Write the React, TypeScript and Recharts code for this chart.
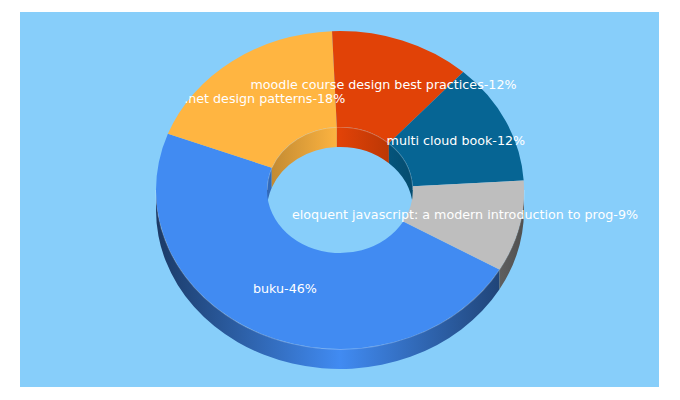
import { PieChart, Pie } from "recharts"

const categories = ["buku", ".net design patterns", "moodle course design best practices", "multi cloud book", "eloquent javascript: a modern introduction to prog"]
const values = [46, 18, 12, 12, 9]
const colors = ["#418bf2", "#ffb541", "#e14207", "#066594", "#bebebe"]

const chartData = categories.map((name, i) => ({ name, value: values[i], fill: colors[i] }))

const WIDTH = 639
const HEIGHT = 375
const CX = 320
const CY = 178
const OUTER = 184
const INNER = 73
const SQUASH = 0.864
const DEPTH = 20
const START = -30

const rad = (a: number) => (a * Math.PI) / 180
const pt = (cx: number, cy: number, r: number, a: number) =>
  `${cx + r * Math.cos(rad(a))} ${cy - r * SQUASH * Math.sin(rad(a))}`

// elliptical arc going clockwise on screen (a1 > a2), or back again
const arc = (cx: number, cy: number, r: number, a1: number, a2: number) => {
  const large = Math.abs(a1 - a2) > 180 ? 1 : 0
  const sweep = a1 > a2 ? 1 : 0
  return `A ${r} ${r * SQUASH} 0 ${large} ${sweep} ${pt(cx, cy, r, a2)}`
}

function TopFace(props: any) {
  const { cx, cy, innerRadius, outerRadius, startAngle, endAngle, fill } = props
  const d = [
    `M ${pt(cx, cy, outerRadius, startAngle)}`,
    arc(cx, cy, outerRadius, startAngle, endAngle),
    `L ${pt(cx, cy, innerRadius, endAngle)}`,
    arc(cx, cy, innerRadius, endAngle, startAngle),
    "Z",
  ].join(" ")
  return <path d={d} fill={fill} />
}

function wallPath(cx: number, cy: number, r: number, a1: number, a2: number) {
  return [
    `M ${pt(cx, cy, r, a1)}`,
    arc(cx, cy, r, a1, a2),
    `L ${pt(cx, cy + DEPTH, r, a2)}`,
    arc(cx, cy + DEPTH, r, a2, a1),
    "Z",
  ].join(" ")
}

// only the front of the outer rim and the back of the hole can be seen
const OUTER_VISIBLE = [[0, -180], [-360, -540]]
const INNER_VISIBLE = [[-180, -360]]

function Walls(props: any) {
  const { cx, cy, innerRadius, outerRadius, startAngle, endAngle, name } = props
  const i = categories.indexOf(name)
  const parts: any[] = []
  const add = (ranges: number[][], r: number, prefix: string) => {
    ranges.forEach(([hi, lo]) => {
      const a1 = Math.min(startAngle, hi)
      const a2 = Math.max(endAngle, lo)
      if (a1 > a2) {
        parts.push(
          <g key={prefix + hi}>
            <path d={wallPath(cx, cy, r, a1, a2)} fill={`url(#${prefix}-${i})`} />
            {/* faint light edge where the wall meets the top face */}
            <path d={`M ${pt(cx, cy, r, a1)} ${arc(cx, cy, r, a1, a2)}`} fill="none" stroke="rgba(255,255,255,0.25)" strokeWidth={1.5} />
          </g>
        )
      }
    })
  }
  add(OUTER_VISIBLE, outerRadius, "rim")
  add(INNER_VISIBLE, innerRadius, "hole")
  return <g>{parts}</g>
}

const shade = (hex: string, k: number) => {
  const n = parseInt(hex.slice(1), 16)
  const ch = (v: number) => Math.round(v * k).toString(16).padStart(2, "0")
  return `#${ch((n >> 16) & 255)}${ch((n >> 8) & 255)}${ch(n & 255)}`
}

function renderLabel(props: any) {
  const { cx, cy, midAngle, payload, value, innerRadius, outerRadius } = props
  const r = (innerRadius + outerRadius) / 2
  const x = cx + r * Math.cos(rad(midAngle))
  const y = cy - r * SQUASH * Math.sin(rad(midAngle)) - 1.5
  return (
    <text x={x} y={y} fill="#ffffff" fontSize={12.7} fontFamily="DejaVu Sans" textAnchor="middle" dominantBaseline="central">
      {`${payload.name}-${value}%`}
    </text>
  )
}

export default function App() {
  return (
    <div style={{ width: WIDTH, height: HEIGHT, marginLeft: 12, marginTop: 4, background: "#87cefa" }}>
      <PieChart width={WIDTH} height={HEIGHT} margin={{ top: 0, right: 0, bottom: 0, left: 0 }}>
        <defs>
          {colors.map((c, i) => (
            <linearGradient key={"rim" + i} id={`rim-${i}`} gradientUnits="userSpaceOnUse" x1={CX - OUTER} x2={CX + OUTER} y1={0} y2={0}>
              <stop offset="0" stopColor={shade(c, 0.42)} />
              <stop offset="0.5" stopColor={c} />
              <stop offset="1" stopColor={shade(c, 0.42)} />
            </linearGradient>
          ))}
          {colors.map((c, i) => (
            <linearGradient key={"hole" + i} id={`hole-${i}`} gradientUnits="userSpaceOnUse" x1={CX - INNER} x2={CX + INNER} y1={0} y2={0}>
              <stop offset="0" stopColor={shade(c, 0.75)} />
              <stop offset="0.5" stopColor={c} />
              <stop offset="1" stopColor={shade(c, 0.75)} />
            </linearGradient>
          ))}
        </defs>
        <Pie
          data={chartData}
          dataKey="value"
          nameKey="name"
          cx={CX}
          cy={CY}
          innerRadius={INNER}
          outerRadius={OUTER}
          startAngle={START}
          endAngle={START - 360}
          stroke="none"
          shape={Walls}
          isAnimationActive={false}
        />
        <Pie
          data={chartData}
          dataKey="value"
          nameKey="name"
          cx={CX}
          cy={CY}
          innerRadius={INNER}
          outerRadius={OUTER}
          startAngle={START}
          endAngle={START - 360}
          stroke="none"
          shape={TopFace}
          label={renderLabel}
          labelLine={false}
          isAnimationActive={false}
        />
      </PieChart>
    </div>
  )
}
